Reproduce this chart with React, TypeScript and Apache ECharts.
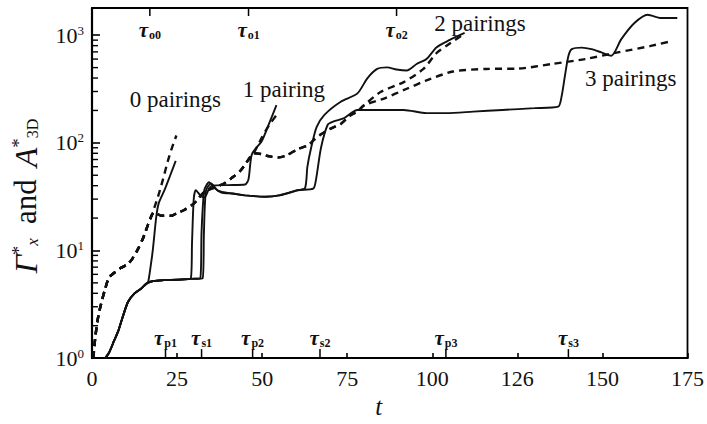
import React, { useEffect, useRef } from "react";
import * as echarts from "echarts";

const FONT = "Liberation Serif, Times New Roman, serif";

// axis
const X_MIN = 0;
const X_MAX = 175;
const Y_MIN = 1;
const Y_MAX = 1790;
const xTickLabels: Record<number, string> = { 0: "0", 25: "25", 50: "50", 75: "75", 100: "100", 125: "126", 150: "150", 175: "175" };
const minorMantissas = [2, 3, 4, 5, 6, 7, 8, 9];
const minorDecades = [1, 10, 100];

// Gamma*_x (solid) : shared growth
const gammaStart: number[][] = [
  [3.9, 1], [5, 1.12], [6.5, 1.45], [7.7, 1.78], [9, 2.4], [10.6, 3.34], [12.5, 4.0], [14.5, 4.43], [16, 4.92],
];
const gammaPlateau: number[][] = [[18, 5.2], [21, 5.3], [25, 5.35], [29, 5.45]];
const gamma0Tail: number[][] = [
  [16.5, 5.1], [17.2, 7], [17.9, 10.3], [18.9, 20.7], [19.6, 27.4], [21.3, 36.3], [23, 50], [24.6, 68],
];
const gamma1Tail: number[][] = [
  [29.4, 12], [29.9, 30], [30.5, 36.3], [32, 32], [33, 31], [34.5, 38], [35.4, 40], [40, 40.5], [45, 41],
  [46, 46], [47, 78.5], [49.9, 104], [52, 150], [54.2, 224],
];
const gamma2Tail: number[][] = [
  [31.8, 5.5], [32.2, 15], [33, 36.3], [34.4, 43], [36, 38], [38, 34.5], [41.2, 33.8], [45, 32.5], [50.9, 31.6],
  [55, 32.5], [60.5, 36.3], [62.6, 38], [63.3, 60], [64.4, 90], [66, 140], [68.3, 182], [73.1, 241], [78, 288],
  [80.9, 397], [83.8, 486], [86.7, 503], [89.5, 480], [92.5, 470], [95.4, 540], [98.3, 600], [101.2, 770],
  [105, 900], [109.5, 1050],
];
const gamma3Tail: number[][] = [
  [32.5, 5.5], [32.9, 15], [33.5, 36], [35, 42], [37, 36], [41.2, 33.8], [45, 32.5], [50.9, 31.6], [55, 32.5],
  [60.5, 36.3], [65, 37.5], [65.8, 45], [67.3, 90], [69.3, 148], [71, 158], [74.1, 170], [78, 202], [83.8, 202],
  [91.6, 202], [98.3, 189], [104.2, 189], [112, 195], [120.6, 202], [130, 210], [137, 217], [138, 270],
  [139, 423], [140, 640], [141, 742], [143.9, 767], [146.8, 742], [149.7, 692], [152.6, 645], [155.5, 914],
  [159.4, 1297], [163.3, 1550], [167.2, 1445], [172, 1445],
];

// A*_3D (dashed)
const aStart: number[][] = [
  [0.4, 1], [1, 1.6], [1.9, 2.5], [3, 3.5], [3.9, 4.43], [5, 5.6], [6.8, 6.3], [8.5, 6.9], [10.6, 7.5],
  [12, 8.5], [13.5, 10.3], [15, 13], [16.5, 17.5], [17.4, 20.7],
];
const a0Tail: number[][] = [[18.5, 26], [19.4, 31.6], [20.8, 45], [22.3, 68], [23.5, 90], [24.8, 117]];
const aShared: number[][] = [
  [18.2, 22.5], [18.9, 22], [20.5, 21], [23.3, 21], [25, 22.3], [27.1, 23.8], [30, 27.4], [33, 35],
  [35.5, 38], [38.7, 41.7], [41, 47], [43.6, 55], [46, 70], [47.5, 80],
];
const a1Tail: number[][] = [[49.9, 112], [52, 145], [54.7, 190]];
const a23Shared: number[][] = [
  [49.9, 78.5], [52, 75], [54.7, 73], [57, 76], [60.6, 88], [63.5, 95], [65.4, 108], [67.3, 120],
  [70, 135], [73.1, 150], [76, 180], [78, 195], [80, 224],
];
const a2Tail: number[][] = [[84.8, 297], [91.6, 367], [97.4, 486], [101.2, 680], [104.2, 800], [108.8, 1000]];
const a3Tail: number[][] = [
  [85.8, 258], [92.5, 318], [98.3, 380], [106.1, 460], [115.8, 486], [125.5, 490], [135.2, 541],
  [144.9, 600], [154.5, 692], [164.2, 795], [170.5, 883],
];

// annotations
const tauTop = [{ t: 17, sub: "o0" }, { t: 46, sub: "o1" }, { t: 89.5, sub: "o2" }];
const tauBottom = [
  { t: 21.6, sub: "p1" }, { t: 32.2, sub: "s1" }, { t: 47.2, sub: "p2" },
  { t: 67, sub: "s2" }, { t: 104, sub: "p3" }, { t: 140, sub: "s3" },
];
const pairingLabels = [
  { t: 24.5, v: 254, text: "0 pairings" },
  { t: 56.4, v: 313, text: "1 pairing" },
  { t: 114, v: 1282, text: "2 pairings" },
  { t: 158.3, v: 394, text: "3 pairings" },
];

export default function App() {
  const ref = useRef<HTMLDivElement>(null);
  useEffect(() => {
    if (!ref.current) return;
    const chart = echarts.init(ref.current, undefined, { renderer: "svg" });
    const solid = (name: string, data: number[][]) => ({
      name, type: "line", data, showSymbol: false, smooth: 0.25, silent: true,
      lineStyle: { color: "#111", width: 1.9, type: "solid" },
    });
    const dashed = (name: string, data: number[][]) => ({
      name, type: "line", data, showSymbol: false, smooth: 0.25, silent: true,
      lineStyle: { color: "#111", width: 2.4, type: [7, 5] },
    });
    const minorTicks: number[][] = [];
    minorDecades.forEach((d) => minorMantissas.forEach((m) => minorTicks.push([X_MIN, m * d])));
    const tauRich = {
      t: { fontFamily: FONT, fontStyle: "italic", fontSize: 21, fill: "#111", fontWeight: "bold" },
      s: { fontFamily: FONT, fontSize: 12, fill: "#111", fontWeight: "bold", padding: [9, 0, 0, 1] },
    };
    const option: any = {
      animation: false,
      backgroundColor: "#fff",
      textStyle: { fontFamily: FONT },
      grid: { left: 92, right: 13, top: 8, bottom: 60, show: true, borderColor: "#000", borderWidth: 1.8 },
      xAxis: {
        type: "value", min: X_MIN, max: X_MAX, interval: 25,
        axisLine: { lineStyle: { color: "#000", width: 2.2 } },
        axisTick: { inside: true, length: 5, lineStyle: { color: "#000", width: 1.6 } },
        splitLine: { show: false },
        axisLabel: {
          fontFamily: FONT, fontSize: 22, color: "#111", margin: 9,
          formatter: (v: number) => xTickLabels[v] ?? "",
        },
        name: "t", nameLocation: "middle", nameGap: 33,
        nameTextStyle: { fontFamily: FONT, fontStyle: "italic", fontSize: 25, color: "#111", padding: [0, 22, 0, 0] },
      },
      yAxis: {
        type: "log", logBase: 10, min: Y_MIN, max: Y_MAX,
        axisLine: { lineStyle: { color: "#000", width: 2.2 } },
        axisTick: { inside: true, length: 8, lineStyle: { color: "#000", width: 1.6 } },
        splitLine: { show: false },
        axisLabel: {
          margin: 8,
          formatter: (v: number) => {
            const k = Math.log10(v);
            if (Math.abs(k - Math.round(k)) > 1e-6) return "";
            return `{b|10}{s|${Math.round(k)}}`;
          },
          rich: {
            b: { fontFamily: FONT, fontSize: 22, color: "#111" },
            s: { fontFamily: FONT, fontSize: 13, color: "#111", padding: [0, 0, 10, 0] },
          },
        },
        name: "{i|Γ}{sup|*}{sub|x}{n|and}{i|A}{sup|*}{sub2|3D}",
        nameLocation: "middle", nameGap: 50, nameRotate: 90,
        nameTextStyle: {
          fontFamily: FONT, fontSize: 30, color: "#111", padding: [0, 26, 0, 0],
          rich: {
            i: { fontFamily: FONT, fontSize: 32, fontStyle: "italic", color: "#111" },
            n: { fontFamily: FONT, fontSize: 31, color: "#111", padding: [0, 12, 0, 14] },
            sup: { fontFamily: FONT, fontSize: 19, color: "#111", padding: [0, 0, 14, 0] },
            sub: { fontFamily: FONT, fontSize: 17, fontStyle: "italic", color: "#111", padding: [14, 0, 0, 0] },
            sub2: { fontFamily: FONT, fontSize: 16, color: "#111", padding: [14, 0, 0, 0] },
          },
        },
      },
      series: [
        solid("Γ 0", gammaStart.concat(gamma0Tail)),
        solid("Γ 1", gammaStart.concat(gammaPlateau, gamma1Tail)),
        solid("Γ 2", gammaStart.concat(gammaPlateau, gamma2Tail)),
        solid("Γ 3", gammaStart.concat(gammaPlateau, gamma3Tail)),
        dashed("A 0", aStart.concat(a0Tail)),
        dashed("A 1", aStart.concat(aShared, a1Tail)),
        dashed("A 2", aStart.concat(aShared, a23Shared, a2Tail)),
        dashed("A 3", aStart.concat(aShared, a23Shared, a3Tail)),
        {
          type: "custom", silent: true, data: minorTicks,
          renderItem: (_p: any, api: any) => {
            const c = api.coord([api.value(0), api.value(1)]);
            return { type: "line", shape: { x1: c[0], y1: c[1], x2: c[0] + 6, y2: c[1] }, style: { stroke: "#000", lineWidth: 1.4 } };
          },
        },
        {
          type: "custom", silent: true, data: tauTop.map((d) => [d.t, Y_MAX]),
          renderItem: (p: any, api: any) => {
            const c = api.coord([api.value(0), api.value(1)]);
            return {
              type: "group",
              children: [
                { type: "line", shape: { x1: c[0], y1: c[1], x2: c[0], y2: c[1] + 8 }, style: { stroke: "#000", lineWidth: 1.5 } },
                {
                  type: "text", x: c[0], y: c[1] + 22,
                  style: { text: `{t|τ}{s|${tauTop[p.dataIndex].sub}}`, align: "center", verticalAlign: "middle", rich: tauRich },
                },
              ],
            };
          },
        },
        {
          type: "custom", silent: true, data: tauBottom.map((d) => [d.t, Y_MIN]),
          renderItem: (p: any, api: any) => {
            const c = api.coord([api.value(0), api.value(1)]);
            return {
              type: "group",
              children: [
                { type: "line", shape: { x1: c[0], y1: c[1], x2: c[0], y2: c[1] - 9 }, style: { stroke: "#000", lineWidth: 1.5 } },
                {
                  type: "text", x: c[0], y: c[1] - 20,
                  style: { text: `{t|τ}{s|${tauBottom[p.dataIndex].sub}}`, align: "center", verticalAlign: "middle", rich: tauRich },
                },
              ],
            };
          },
        },
        {
          type: "custom", silent: true, data: pairingLabels.map((d) => [d.t, d.v]),
          renderItem: (p: any, api: any) => {
            const c = api.coord([api.value(0), api.value(1)]);
            return {
              type: "text", x: c[0], y: c[1],
              style: {
                text: pairingLabels[p.dataIndex].text, align: "center", verticalAlign: "middle",
                fontFamily: FONT, fontSize: 23, fill: "#111",
              },
            };
          },
        },
      ],
    };
    chart.setOption(option);
    return () => chart.dispose();
  }, []);
  return <div ref={ref} style={{ width: 707, height: 424, position: "absolute", left: 0, top: 0 }} />;
}
